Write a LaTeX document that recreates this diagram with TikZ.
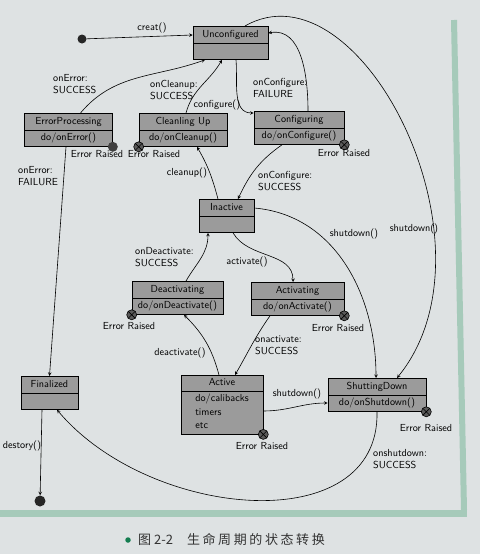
\documentclass[tikz,border=0pt]{standalone}
\usepackage{fontspec}
\newfontfamily\cjkfont{Noto Sans CJK SC}
\newfontfamily\cjkwide[LetterSpace=20]{Noto Sans CJK SC}
\usetikzlibrary{shapes.multipart}
\definecolor{paper}{RGB}{222,226,227}
\definecolor{boxgray}{RGB}{155,155,155}
\definecolor{markgray}{RGB}{90,90,90}
\definecolor{rulegreen}{RGB}{166,202,186}
\definecolor{dotgreen}{RGB}{20,125,80}

\begin{document}
\begin{tikzpicture}[x=1pt, y=1pt, >=stealth, font=\sffamily\fontsize{10.2}{12}\selectfont]
	\tikzstyle{state} = [rectangle split, rectangle split parts=2, draw, fill=boxgray, anchor=north, inner xsep=3pt, inner ysep=2pt, line width=0.6pt]
	\tikzstyle{errmark} = [circle, draw, fill=markgray, minimum size=10pt, inner sep=0pt, line width=0.6pt, path picture={\draw (path picture bounding box.north west) -- (path picture bounding box.south east) (path picture bounding box.north east) -- (path picture bounding box.south west);}]
	\tikzstyle{errdot} = [circle, fill=black!75, minimum size=10pt, inner sep=0pt]
	\tikzstyle{pseudo} = [circle, fill=black!85, inner sep=0pt]
	\tikzstyle{lbl} = [inner sep=1pt]
	\tikzstyle{guard} = [inner sep=1pt, anchor=west, align=left]
	\tikzstyle{edge} = [->, line width=0.6pt]
	\fill[paper] (0,0) rectangle (480,-554);
	\useasboundingbox (0,0) rectangle (480,-554);
	% page rules
	\draw[rulegreen, line width=6pt] (454,-20) -- (464,-510);
	\draw[rulegreen, line width=7pt] (0,-513) -- (467,-513);
	% states
	\node[pseudo, minimum size=9pt] (start) at (82,-39) {};
	\node[pseudo, minimum size=11pt] (stop) at (40,-501) {};
	\node[state, minimum width=75pt] (Unconfigured) at (230.5,-26) {\strut Unconfigured\nodepart{two}\strut};
	\node[state, minimum width=88pt] (ErrorProcessing) at (68.5,-113) {\strut ErrorProcessing\nodepart{two}\strut do/onError()};
	\node[state, minimum width=88pt] (CleaningUp) at (183,-113) {\strut Cleanling Up\nodepart{two}\strut do/onCleanup()};
	\node[state, minimum width=90pt] (Configuring) at (299,-111) {\strut Configuring\nodepart{two}\strut do/onConfigure()};
	\node[state, minimum width=55pt] (Inactive) at (226.5,-199) {\strut Inactive\nodepart{two}\strut};
	\node[state, minimum width=91pt] (Deactivating) at (177.5,-281) {\strut Deactivating\nodepart{two}\strut do/onDeactivate()};
	\node[state, minimum width=93pt] (Activating) at (297.5,-282) {\strut Activating\nodepart{two}\strut do/onActivate()};
	\node[state, minimum width=57pt] (Finalized) at (49.5,-376) {\strut Finalized\nodepart{two}\strut};
	\node[state, minimum width=82pt, inner ysep=1.5pt] (Active) at (222,-375) {\strut Active\nodepart{two}\renewcommand\arraystretch{1.1}\begin{tabular}{@{}l@{}}do/calibacks\\timers\\etc\end{tabular}};
	\node[state, minimum width=98pt] (ShuttingDown) at (377,-378) {\strut ShuttingDown\nodepart{two}\strut do/onShutdown()};
	% error markers
	\node[errdot] (epErr) at (ErrorProcessing.south east) {};
	\node[errmark] (cuErr) at (CleaningUp.south west) {};
	\node[errmark] (cfErr) at (Configuring.south east) {};
	\node[errmark] (deErr) at (Deactivating.south west) {};
	\node[errmark] (acErr) at (Activating.south east) {};
	\node[errmark] (avErr) at (Active.south east) {};
	\node[errmark] (sdErr) at (ShuttingDown.south east) {};
	\node[lbl] (epErrText) at (97,-154) {Error Raised};
	\node[lbl] (cuErrText) at (154,-154) {Error Raised};
	\node[lbl] (cfErrText) at (344,-153) {Error Raised};
	\node[lbl] (deErrText) at (129,-326) {Error Raised};
	\node[lbl] (acErrText) at (338,-328) {Error Raised};
	\node[lbl] (avErrText) at (262,-446) {Error Raised};
	\node[lbl] (sdErrText) at (426,-428) {Error Raised};
	% transitions
	\draw[edge] (start) -- ([yshift=-9pt]Unconfigured.north west);
	\draw[edge] ([xshift=12pt]ErrorProcessing.north) to[out=50, in=200] ([xshift=-25.5pt]Unconfigured.south);
	\draw[edge] ([xshift=3pt]CleaningUp.north) to[out=75, in=240] ([xshift=-8.5pt]Unconfigured.south);
	\draw[edge] ([xshift=5.5pt]Unconfigured.south) to[out=-85, in=180] ([yshift=-2pt]Configuring.north west);
	\draw[edge] ([xshift=9pt]Configuring.north) to[out=90, in=10] ([yshift=-7pt]Unconfigured.north east);
	\draw[edge] ([xshift=-17pt]Configuring.south) to[out=215, in=65] ([xshift=11.5pt]Inactive.north);
	\draw[edge] ([xshift=-8.5pt]Inactive.north) to[out=105, in=-60] ([xshift=14pt]CleaningUp.south);
	\draw[edge] ([yshift=-9pt]Inactive.north east) to[out=-5, in=90] ([xshift=-1pt]ShuttingDown.north);
	\draw[edge] ([xshift=14.5pt]Unconfigured.north) .. controls (360,40) and (505,-245) .. ([xshift=20pt]ShuttingDown.north);
	\draw[edge] ([xshift=6.5pt]Inactive.south) to[out=-60, in=90] ([xshift=-4.5pt]Activating.north);
	\draw[edge] ([xshift=8.5pt]Deactivating.north) to[out=60, in=-90] ([xshift=-18.5pt]Inactive.south);
	\draw[edge] ([xshift=-3pt]Active.north) to[out=105, in=-45] ([xshift=6.5pt]Deactivating.south);
	\draw[edge] ([xshift=-27.5pt]Activating.south) to[out=235, in=60] ([xshift=13pt]Active.north);
	\draw[edge] ([yshift=-36pt]Active.north east) to[out=0, in=180] ([yshift=-25pt]ShuttingDown.north west);
	\draw[edge] (ShuttingDown.south) .. controls (380,-540) and (150,-520) .. ([xshift=7.5pt]Finalized.south);
	\draw[edge] ([xshift=-2.5pt]ErrorProcessing.south) -- (Finalized.north);
	\draw[edge] ([xshift=-7.5pt]Finalized.south) -- (stop);
	% transition labels
	\node[lbl] (creatText) at (152,-28) {creat()};
	\node[guard] (epOk) at (52,-84) {onError:\\SUCCESS};
	\node[guard] (cuOk) at (149,-90) {onCleanup:\\SUCCESS};
	\node[guard] (cfFail) at (252,-88) {onConfigure:\\FAILURE};
	\node[lbl] (configureText) at (217,-105) {configure()};
	\node[guard] (cfOk) at (257,-181) {onConfigure:\\SUCCESS};
	\node[lbl] (cleanupText) at (187,-173) {cleanup()};
	\node[lbl] (shutdownA) at (354,-234) {shutdown()};
	\node[lbl] (shutdownB) at (414,-229) {shutdown()};
	\node[guard] (deOk) at (134,-257) {onDeactivate:\\SUCCESS};
	\node[lbl] (activateText) at (247,-262) {activate()};
	\node[lbl] (deactivateText) at (180,-353) {deactivate()};
	\node[guard] (acOk) at (254,-345) {onactivate:\\SUCCESS};
	\node[lbl] (shutdownC) at (297,-394) {shutdown()};
	\node[guard] (sdOk) at (372,-459) {onshutdown:\\SUCCESS};
	\node[guard] (epFail) at (17,-176) {onError:\\FAILURE};
	\node[lbl] (destroyText) at (22,-446) {destory()};
	% caption
	\node[circle, fill=dotgreen, minimum size=5.5pt, inner sep=0pt] (capDot) at (128,-540) {};
	\node[anchor=west, inner sep=0pt, text=black!80] (caption) at (138,-540) {\fontsize{13}{15}\selectfont{\cjkfont 图 2-2}\hspace{14pt}{\cjkwide 生命周期的状态转换}};
\end{tikzpicture}
\end{document}
